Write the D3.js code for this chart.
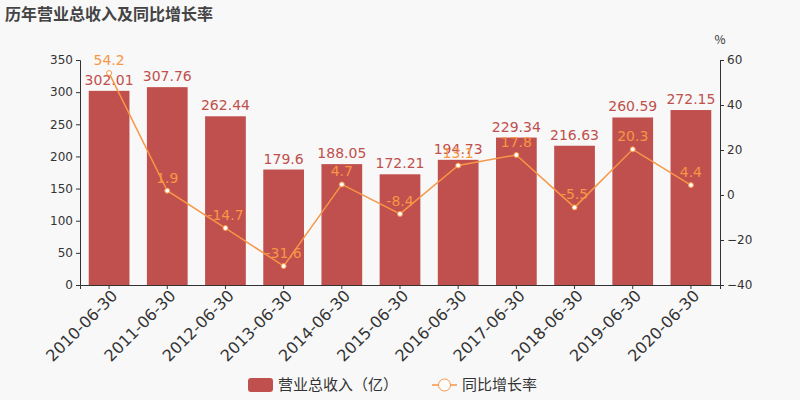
<!DOCTYPE html><html><head><meta charset="utf-8"><script src="https://cdn.jsdelivr.net/npm/d3@7"></script>
<style>body{margin:0;background:#f8f8f8}svg{font-family:"Noto Sans CJK SC","DejaVu Sans",sans-serif}</style></head><body><svg width="800" height="400"></svg><script>
const categories=["2010-06-30","2011-06-30","2012-06-30","2013-06-30","2014-06-30","2015-06-30","2016-06-30","2017-06-30","2018-06-30","2019-06-30","2020-06-30"];
const revenue=[302.01,307.76,262.44,179.6,188.05,172.21,194.73,229.34,216.63,260.59,272.15];
const growth=[54.2,1.9,-14.7,-31.6,4.7,-8.4,13.1,17.8,-5.5,20.3,4.4];
const leftTicks=[0,50,100,150,200,250,300,350];
const rightTicks=[-40,-20,0,20,40,60];
const svg=d3.select("svg");
svg.append("rect").attr("width",800).attr("height",400).attr("fill","#f8f8f8");
const L=80,R=720,T=60,B=285;
const x=d3.scaleBand().domain(categories).range([L,R]).paddingInner(0.3).paddingOuter(0.15);
const y=d3.scaleLinear().domain([0,350]).range([B,T]);
const y2=d3.scaleLinear().domain([-40,60]).range([B,T]);
const barC="#c0504d",lineC="#f79646",txt="#333";
svg.append("text").attr("x",5).attr("y",20).text("历年营业总收入及同比增长率").attr("font-size",16).attr("font-weight","bold").attr("fill","#444");
const ga=svg.append("g").attr("transform",`translate(${L},0)`).call(d3.axisLeft(y).tickValues(leftTicks).tickSize(4));
const gb=svg.append("g").attr("transform",`translate(${R},0)`).call(d3.axisRight(y2).tickValues(rightTicks).tickSize(4));
const gx=svg.append("g").attr("transform",`translate(0,${B})`).call(d3.axisBottom(x).tickSize(4));
[ga,gb,gx].forEach(g=>{g.selectAll("path,line").attr("stroke","#333");g.selectAll("text").attr("fill",txt).attr("font-size",12).attr("font-family","DejaVu Sans")});
gx.selectAll("text").attr("font-size",16).attr("text-anchor","end").attr("dx","-0.1em").attr("dy","0.5em").attr("transform","rotate(-45)");
svg.append("text").attr("x",720).attr("y",44).attr("text-anchor","middle").attr("font-size",12).attr("fill",txt).text("%");
svg.selectAll(".bar").data(revenue).join("rect").attr("x",(d,i)=>x(categories[i])).attr("width",x.bandwidth()).attr("y",d=>y(d)).attr("height",d=>B-y(d)).attr("fill",barC);
svg.selectAll(".bl").data(revenue).join("text").attr("x",(d,i)=>x(categories[i])+x.bandwidth()/2).attr("y",d=>y(d)-6).attr("text-anchor","middle").attr("font-size",14).attr("font-family","DejaVu Sans").attr("fill",barC).text(d=>d);
const cx=i=>x(categories[i])+x.bandwidth()/2;
svg.append("path").datum(growth).attr("d",d3.line().x((d,i)=>cx(i)).y(d=>y2(d))).attr("fill","none").attr("stroke",lineC).attr("stroke-width",1.5);
svg.selectAll(".pt").data(growth).join("circle").attr("cx",(d,i)=>cx(i)).attr("cy",d=>y2(d)).attr("r",2.5).attr("fill","#fff").attr("stroke",lineC);
svg.selectAll(".gl").data(growth).join("text").attr("x",(d,i)=>cx(i)).attr("y",d=>y2(d)-8).attr("text-anchor","middle").attr("font-size",14).attr("font-family","DejaVu Sans").attr("fill",lineC).text(d=>d);
const lg=svg.append("g");
lg.append("rect").attr("x",248).attr("y",378).attr("width",25).attr("height",14).attr("rx",3).attr("fill",barC);
lg.append("text").attr("x",278).attr("y",390).attr("font-size",15).attr("fill",txt).text("营业总收入（亿）");
lg.append("line").attr("x1",432).attr("x2",457).attr("y1",385).attr("y2",385).attr("stroke",lineC).attr("stroke-width",1.5);
lg.append("circle").attr("cx",444.5).attr("cy",385).attr("r",6).attr("fill","#fff").attr("stroke",lineC);
lg.append("text").attr("x",462).attr("y",390).attr("font-size",15).attr("fill",txt).text("同比增长率");
</script></body></html>
